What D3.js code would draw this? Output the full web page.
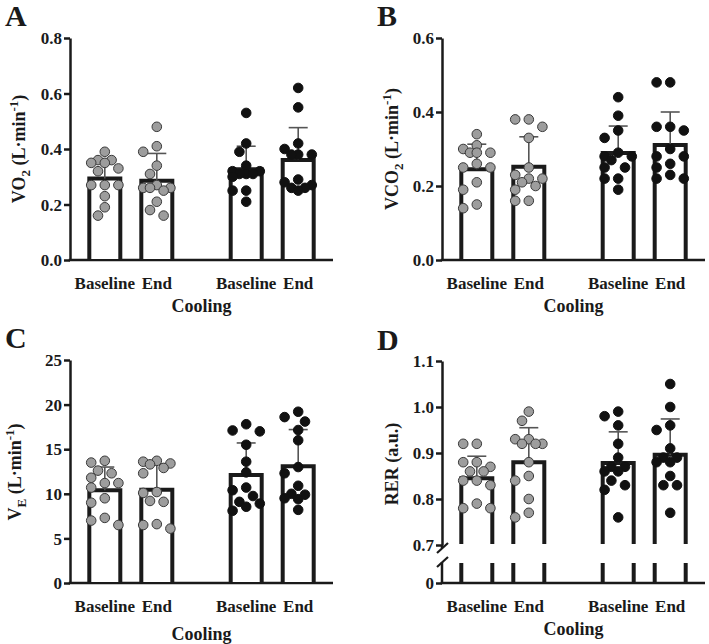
<!DOCTYPE html>
<html>
<head>
<meta charset="utf-8">
<script src="https://cdn.jsdelivr.net/npm/d3@7"></script>
<style>
  body { margin: 0; background: #fff; }
  text { font-family: "Liberation Serif", "Times New Roman", serif; font-weight: bold; fill: #1a1a1a; }
</style>
</head>
<body>
<div id="chart"></div>
<script>
// categories
var timepoints = ["Baseline", "End"];
var conditions = ["grey", "black"];   // two unlabeled groups, each Baseline + End
var xTitle = "Cooling";

// A: VO2 (L/min) - individual points, bar = mean, error = SD
var vo2Points = [
  [0.39, 0.36, 0.36, 0.35, 0.35, 0.33, 0.32, 0.27, 0.27, 0.27, 0.23, 0.19, 0.16],
  [0.48, 0.41, 0.39, 0.34, 0.31, 0.27, 0.26, 0.26, 0.26, 0.25, 0.21, 0.18, 0.16],
  [0.53, 0.42, 0.39, 0.34, 0.32, 0.32, 0.31, 0.31, 0.31, 0.30, 0.25, 0.25, 0.21],
  [0.62, 0.55, 0.42, 0.40, 0.38, 0.38, 0.38, 0.29, 0.28, 0.27, 0.26, 0.26, 0.25]
];
var vo2Mean = [0.294, 0.286, 0.327, 0.360];
var vo2Sd = [0.071, 0.098, 0.083, 0.117];
var vo2Ticks = [0, 0.2, 0.4, 0.6, 0.8];

// B: VCO2 (L/min)
var vco2Points = [
  [0.34, 0.31, 0.30, 0.29, 0.29, 0.29, 0.26, 0.25, 0.25, 0.21, 0.19, 0.15, 0.14],
  [0.38, 0.38, 0.36, 0.33, 0.25, 0.23, 0.22, 0.22, 0.21, 0.20, 0.19, 0.16, 0.16],
  [0.44, 0.39, 0.35, 0.33, 0.29, 0.28, 0.28, 0.27, 0.25, 0.25, 0.22, 0.22, 0.19],
  [0.48, 0.48, 0.36, 0.36, 0.35, 0.30, 0.28, 0.28, 0.26, 0.25, 0.23, 0.22, 0.22]
];
var vco2Mean = [0.245, 0.252, 0.289, 0.311];
var vco2Sd = [0.068, 0.081, 0.073, 0.089];
var vco2Ticks = [0, 0.2, 0.4, 0.6];

// C: VE (L/min)
var vePoints = [
  [13.7, 13.5, 12.6, 12.3, 11.8, 11.2, 11.2, 10.7, 9.5, 9.0, 7.3, 7.0, 6.5],
  [13.7, 13.6, 13.4, 13.3, 12.9, 12.3, 10.2, 10.1, 9.2, 9.1, 6.6, 6.5, 6.1],
  [17.8, 17.1, 17.0, 15.5, 13.6, 12.4, 10.7, 10.4, 9.75, 9.1, 8.9, 8.55, 8.1],
  [19.2, 18.6, 18.1, 17.15, 16.0, 13.0, 12.3, 10.9, 10.0, 9.9, 9.5, 9.4, 8.2]
];
var veMean = [10.4, 10.45, 12.1, 13.1];
var veSd = [2.6, 2.9, 3.6, 4.1];
var veTicks = [0, 5, 10, 15, 20, 25];

// D: RER (a.u.), broken axis
var rerPoints = [
  [0.92, 0.92, 0.88, 0.88, 0.87, 0.86, 0.86, 0.84, 0.84, 0.83, 0.79, 0.78, 0.78],
  [0.99, 0.97, 0.93, 0.93, 0.92, 0.92, 0.92, 0.88, 0.85, 0.84, 0.80, 0.77, 0.76],
  [0.99, 0.98, 0.96, 0.92, 0.89, 0.87, 0.87, 0.86, 0.86, 0.84, 0.83, 0.82, 0.76],
  [1.05, 1.00, 0.96, 0.95, 0.91, 0.89, 0.89, 0.88, 0.88, 0.85, 0.83, 0.83, 0.77]
];
var rerMean = [0.845, 0.880, 0.878, 0.896];
var rerSd = [0.048, 0.075, 0.068, 0.078];
var rerTicks = [0.7, 0.8, 0.9, 1.0, 1.1];
var rerLowTicks = [0];

var ink = "#1a1a1a";
var greyFill = "#9d9d9d";
var errColor = "#555";
var plotW = 263;
var barW = 31;
var dotR = 4.8;

var panels = [
  { letter: "A", left: 70, top: 38, bottom: 260, points: vo2Points, mean: vo2Mean, sd: vo2Sd,
    domain: [0, 0.8], ticks: vo2Ticks, fmt: ".1f",
    label: [["VO", ""], ["2", "sub"], [" (L\u00b7min", ""], ["-1", "sup"], [")", ""]],
    labelX: 25, labelY: 149, letterY: 26, titleY: 312 },
  { letter: "B", left: 442, top: 38, bottom: 260, points: vco2Points, mean: vco2Mean, sd: vco2Sd,
    domain: [0, 0.6], ticks: vco2Ticks, fmt: ".1f",
    label: [["VCO", ""], ["2", "sub"], [" (L\u00b7min", ""], ["-1", "sup"], [")", ""]],
    labelX: 398, labelY: 149, letterY: 26, titleY: 312 },
  { letter: "C", left: 70, top: 360, bottom: 583, points: vePoints, mean: veMean, sd: veSd,
    domain: [0, 25], ticks: veTicks, fmt: "d",
    label: [["V", ""], ["E", "sub"], [" (L\u00b7min", ""], ["-1", "sup"], [")", ""]],
    labelX: 21, labelY: 472, letterY: 348, titleY: 640 },
  { letter: "D", left: 442, top: 361, bottom: 583, points: rerPoints, mean: rerMean, sd: rerSd,
    domain: [0.7, 1.1], ticks: rerTicks, fmt: ".1f", broken: true, breakY: 545, lowTop: 563,
    label: [["RER (a.u.)", ""]],
    labelX: 398, labelY: 464, letterY: 350, titleY: 635 }
];

var svg = d3.select("#chart").append("svg")
  .attr("width", 709)
  .attr("height", 644);

// simple beeswarm: spread points sideways when they would overlap
function swarm(vals, y) {
  var step = 6.8, minD = 10.2, placed = [];
  var cands = [0, -step, step, -2 * step, 2 * step];
  vals.slice().sort(function(a, b) { return b - a; }).forEach(function(v) {
    var py = y(v), best = null, bestD = -1;
    for (var k = 0; k < cands.length; k++) {
      var c = cands[k];
      var d = d3.min(placed, function(p) { return Math.hypot(p.dx - c, p.y - py); });
      if (d === undefined) d = Infinity;
      if (d >= minD) { best = c; break; }
      if (d > bestD) { bestD = d; best = c; }
    }
    placed.push({ v: v, dx: best, y: py });
  });
  return placed;
}

panels.forEach(function(p) {
  var g = svg.append("g");
  var groupX = d3.scalePoint().domain(conditions).range([p.left, p.left + plotW]).padding(0.43);
  var timeX = d3.scalePoint().domain(timepoints).range([-26, 26]);
  var cx = function(i) {
    return groupX(conditions[Math.floor(i / 2)]) + timeX(timepoints[i % 2]);
  };
  var base = p.broken ? p.breakY : p.bottom;
  var y = d3.scaleLinear().domain(p.domain).range([base, p.top]);

  // y axis
  g.append("g")
    .attr("transform", "translate(" + p.left + ",0)")
    .call(d3.axisLeft(y).tickValues(p.ticks).tickFormat(d3.format(p.fmt)).tickSize(6).tickSizeOuter(0).tickPadding(2));

  if (p.broken) {
    var yLow = d3.scaleLinear().domain([0, 0.1]).range([p.bottom, p.lowTop]);
    g.append("g")
      .attr("class", "lowaxis")
      .attr("transform", "translate(" + p.left + ",0)")
      .call(d3.axisLeft(yLow).tickValues(rerLowTicks).tickFormat(d3.format("d")).tickSize(6).tickSizeOuter(0).tickPadding(2));
    g.selectAll(".lowaxis .domain").remove();
    g.append("line").attr("x1", p.left).attr("x2", p.left)
      .attr("y1", p.breakY).attr("y2", p.breakY + 3)
      .attr("stroke", ink).attr("stroke-width", 2.5);
    g.append("line").attr("x1", p.left).attr("x2", p.left)
      .attr("y1", p.lowTop - 1).attr("y2", p.bottom)
      .attr("stroke", ink).attr("stroke-width", 2.5);
    [p.breakY + 3, p.lowTop - 1].forEach(function(by) {
      g.append("line")
        .attr("x1", p.left - 5).attr("y1", by + 5)
        .attr("x2", p.left + 6).attr("y2", by - 5)
        .attr("stroke", ink).attr("stroke-width", 2.2);
    });
  }

  g.selectAll(".domain, .tick line").attr("stroke", ink).attr("stroke-width", 2.5);
  g.selectAll(".tick text")
    .attr("font-family", "'Liberation Serif', 'Times New Roman', serif")
    .attr("font-weight", "bold")
    .attr("font-size", 17)
    .attr("fill", ink)
    .attr("dy", "0.34em");
  g.selectAll("g").attr("font-family", null).attr("font-size", null);

  // x axis line
  g.append("line")
    .attr("x1", p.left - 1.25).attr("x2", p.left + plotW)
    .attr("y1", p.bottom).attr("y2", p.bottom)
    .attr("stroke", ink).attr("stroke-width", 2.5);

  // bars (open at the bottom)
  p.mean.forEach(function(m, i) {
    var x0 = cx(i) - barW / 2, x1 = cx(i) + barW / 2;
    g.append("path")
      .attr("d", "M" + x0 + "," + (base - 1) + "V" + y(m) + "H" + x1 + "V" + (base - 1))
      .attr("fill", "#fff")
      .attr("stroke", ink)
      .attr("stroke-width", 4)
      .attr("stroke-linejoin", "miter");
    if (p.broken) {
      [x0, x1].forEach(function(xx) {
        g.append("line").attr("x1", xx).attr("x2", xx)
          .attr("y1", p.lowTop).attr("y2", p.bottom - 1)
          .attr("stroke", ink).attr("stroke-width", 4);
      });
    }
    // error bar (mean + SD)
    var top = y(m + p.sd[i]);
    g.append("line").attr("x1", cx(i)).attr("x2", cx(i))
      .attr("y1", y(m)).attr("y2", top)
      .attr("stroke", errColor).attr("stroke-width", 1.6);
    g.append("line").attr("x1", cx(i) - 9.5).attr("x2", cx(i) + 9.5)
      .attr("y1", top).attr("y2", top)
      .attr("stroke", errColor).attr("stroke-width", 1.6);
  });

  // individual points
  p.points.forEach(function(vals, i) {
    var black = conditions[Math.floor(i / 2)] === "black";
    g.selectAll(null)
      .data(swarm(vals, y))
      .enter()
      .append("circle")
      .attr("cx", function(d) { return cx(i) + d.dx; })
      .attr("cy", function(d) { return d.y; })
      .attr("r", dotR)
      .attr("fill", black ? "#111" : greyFill)
      .attr("stroke", black ? "#111" : "#3a3a3a")
      .attr("stroke-width", 1);
  });

  // x tick labels
  p.mean.forEach(function(m, i) {
    g.append("text")
      .attr("x", cx(i)).attr("y", p.bottom + 29)
      .attr("text-anchor", "middle")
      .attr("font-size", 17)
      .text(timepoints[i % 2]);
  });

  // x title
  g.append("text")
    .attr("x", p.left + plotW / 2).attr("y", p.titleY)
    .attr("text-anchor", "middle")
    .attr("font-size", 18)
    .text(xTitle);

  // y title
  var t = g.append("text")
    .attr("transform", "translate(" + p.labelX + "," + p.labelY + ") rotate(-90)")
    .attr("text-anchor", "middle")
    .attr("font-size", 18);
  var shift = 0;
  p.label.forEach(function(part) {
    var target = part[1] === "sub" ? 5 : part[1] === "sup" ? -7 : 0;
    t.append("tspan")
      .attr("dy", target - shift)
      .attr("font-size", part[1] ? 13 : null)
      .text(part[0]);
    shift = target;
  });

  // panel letter
  g.append("text")
    .attr("x", p.left - 65).attr("y", p.letterY)
    .attr("font-size", 30)
    .text(p.letter);
});
</script>
</body>
</html>
